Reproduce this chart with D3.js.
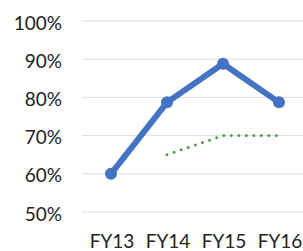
<!DOCTYPE html>
<html>
<head>
<meta charset="utf-8">
<script src="https://cdn.jsdelivr.net/npm/d3@7"></script>
<style>
  body { margin: 0; background: #fff; }
  text { font-family: Lato, "Open Sans", sans-serif; fill: #222; }
</style>
</head>
<body>
<svg id="chart" width="303" height="251"></svg>
<script>
const years = ['FY13', 'FY14', 'FY15', 'FY16'];
const actual = [60, 78.7, 88.8, 78.7];
const target = [null, 65, 70, 70];
const yTicks = [50, 60, 70, 80, 90, 100];

const svg = d3.select('#chart');

const x = d3.scalePoint()
    .domain(years)
    .range([111, 279]);

const y = d3.scaleLinear()
    .domain([50, 100])
    .range([212, 21]);

// gridlines
svg.append('g')
    .selectAll('line')
    .data(yTicks)
    .join('line')
    .attr('x1', 82)
    .attr('x2', 303)
    .attr('y1', d => y(d))
    .attr('y2', d => y(d))
    .attr('stroke', '#dcdcdc')
    .attr('stroke-width', 1);

// y labels
svg.append('g')
    .selectAll('text')
    .data(yTicks)
    .join('text')
    .attr('x', 62)
    .attr('y', d => y(d) + 1)
    .attr('text-anchor', 'end')
    .attr('dominant-baseline', 'central')
    .attr('font-size', 19)
    .text(d => d + '%');

// x labels
svg.append('g')
    .selectAll('text')
    .data(years)
    .join('text')
    .attr('x', d => x(d) + 1)
    .attr('y', 240)
    .attr('text-anchor', 'middle')
    .attr('dominant-baseline', 'central')
    .attr('font-size', 19)
    .text(d => d);

// target line (dotted green)
const targetLine = d3.line()
    .defined(d => d.v !== null)
    .x(d => x(d.year))
    .y(d => y(d.v));

svg.append('path')
    .datum(years.map((year, i) => ({year, v: target[i]})))
    .attr('d', targetLine)
    .attr('fill', 'none')
    .attr('stroke', '#4e9e4e')
    .attr('stroke-width', 3)
    .attr('stroke-linecap', 'round')
    .attr('stroke-dasharray', '0,7.5');

// actual line (blue)
const actualData = years.map((year, i) => ({year, v: actual[i]}));

svg.append('path')
    .datum(actualData)
    .attr('d', d3.line().x(d => x(d.year)).y(d => y(d.v)))
    .attr('fill', 'none')
    .attr('stroke', '#4472c4')
    .attr('stroke-width', 6)
    .attr('stroke-linejoin', 'round');

svg.append('g')
    .selectAll('circle')
    .data(actualData)
    .join('circle')
    .attr('cx', d => x(d.year))
    .attr('cy', d => y(d.v))
    .attr('r', 6)
    .attr('fill', '#4472c4');
</script>
</body>
</html>
